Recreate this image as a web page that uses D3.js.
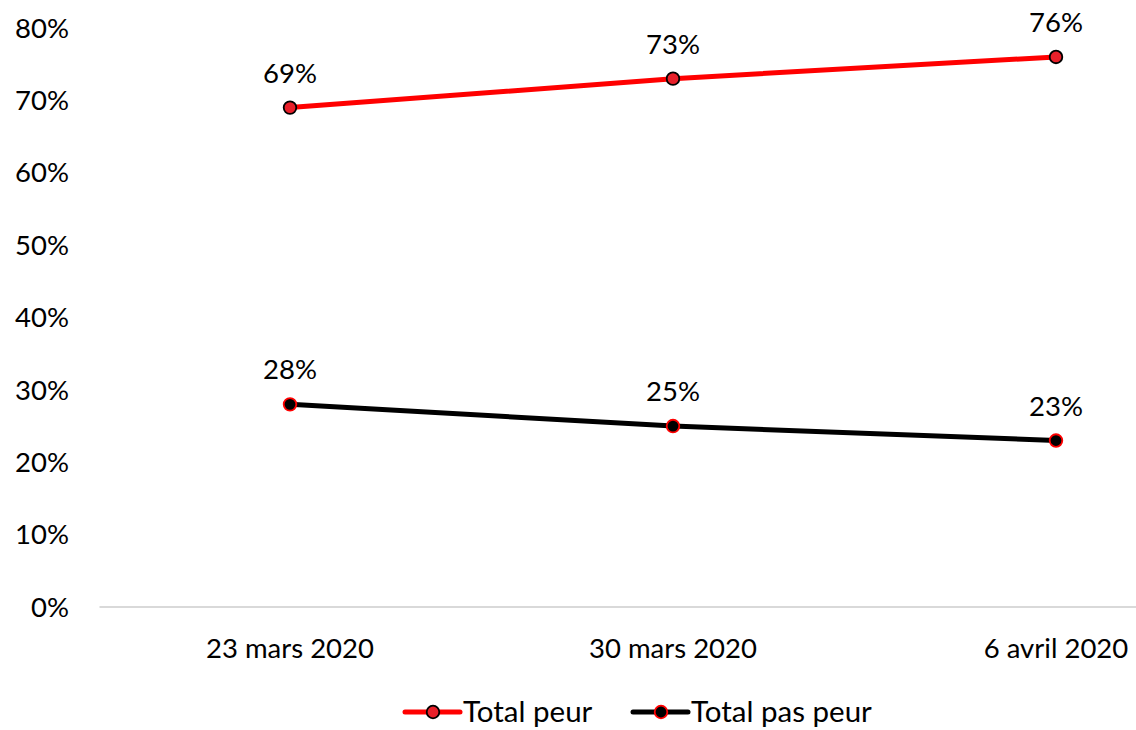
<!DOCTYPE html>
<html>
<head>
<meta charset="utf-8">
<script src="https://cdn.jsdelivr.net/npm/d3@7"></script>
<style>
  body { margin: 0; background: #fff; }
  text { font-family: Lato, "Open Sans", sans-serif; fill: #000; }
</style>
</head>
<body>
<div id="chart"></div>
<script>
const dates = ['23 mars 2020', '30 mars 2020', '6 avril 2020'];
const peur = [69, 73, 76];
const pasPeur = [28, 25, 23];
const yTicks = [0, 10, 20, 30, 40, 50, 60, 70, 80];

const width = 1136;
const height = 730;
const fontSize = 27.5;
const legendFontSize = 29.5;

const series = [
  { name: 'Total peur', values: peur, line: '#ff0000', fill: '#e8202a', stroke: '#000' },
  { name: 'Total pas peur', values: pasPeur, line: '#000', fill: '#000', stroke: '#ff0000' }
];

const svg = d3.select('#chart').append('svg')
  .attr('width', width)
  .attr('height', height);

const x = d3.scaleBand()
  .domain(dates)
  .range([98.5, 1247.5]);

const y = d3.scaleLinear()
  .domain([0, 80])
  .range([607, 28]);

// y tick labels (no axis line)
svg.append('g')
  .selectAll('text')
  .data(yTicks)
  .join('text')
    .attr('x', 69)
    .attr('y', d => y(d))
    .attr('dy', '0.35em')
    .attr('text-anchor', 'end')
    .attr('font-size', fontSize)
    .text(d => d + '%');

// baseline
svg.append('line')
  .attr('x1', x.range()[0] + 1)
  .attr('x2', width)
  .attr('y1', y(0))
  .attr('y2', y(0))
  .attr('stroke', '#d9d9d9')
  .attr('stroke-width', 2);

// x labels
svg.append('g')
  .selectAll('text')
  .data(dates)
  .join('text')
    .attr('x', d => x(d) + x.bandwidth() / 2)
    .attr('y', 658)
    .attr('text-anchor', 'middle')
    .attr('font-size', fontSize)
    .text(d => d);

const cx = (d, i) => x(dates[i]) + x.bandwidth() / 2;

const line = d3.line()
  .x(cx)
  .y(d => y(d));

series.forEach(s => {
  svg.append('path')
    .attr('d', line(s.values))
    .attr('fill', 'none')
    .attr('stroke', s.line)
    .attr('stroke-width', 5)
    .attr('stroke-linecap', 'round');

  svg.append('g')
    .selectAll('circle')
    .data(s.values)
    .join('circle')
      .attr('cx', cx)
      .attr('cy', d => y(d))
      .attr('r', 6.3)
      .attr('fill', s.fill)
      .attr('stroke', s.stroke)
      .attr('stroke-width', 1.8);

  svg.append('g')
    .selectAll('text')
    .data(s.values)
    .join('text')
      .attr('x', cx)
      .attr('y', d => y(d) - 25)
      .attr('text-anchor', 'middle')
      .attr('font-size', fontSize)
      .text(d => d + '%');
});

// legend
const legendItems = [
  { s: series[0], x: 405 },
  { s: series[1], x: 633 }
];
const legendY = 712;
const legend = svg.append('g')
  .selectAll('g')
  .data(legendItems)
  .join('g')
    .attr('transform', d => `translate(${d.x},${legendY})`);

legend.append('line')
  .attr('x1', 0)
  .attr('x2', 55)
  .attr('stroke', d => d.s.line)
  .attr('stroke-width', 5)
  .attr('stroke-linecap', 'round');

legend.append('circle')
  .attr('cx', 28)
  .attr('r', 6.3)
  .attr('fill', d => d.s.fill)
  .attr('stroke', d => d.s.stroke)
  .attr('stroke-width', 1.8);

legend.append('text')
  .attr('x', 58)
  .attr('dy', '0.35em')
  .attr('font-size', legendFontSize)
  .text(d => d.s.name);
</script>
</body>
</html>
